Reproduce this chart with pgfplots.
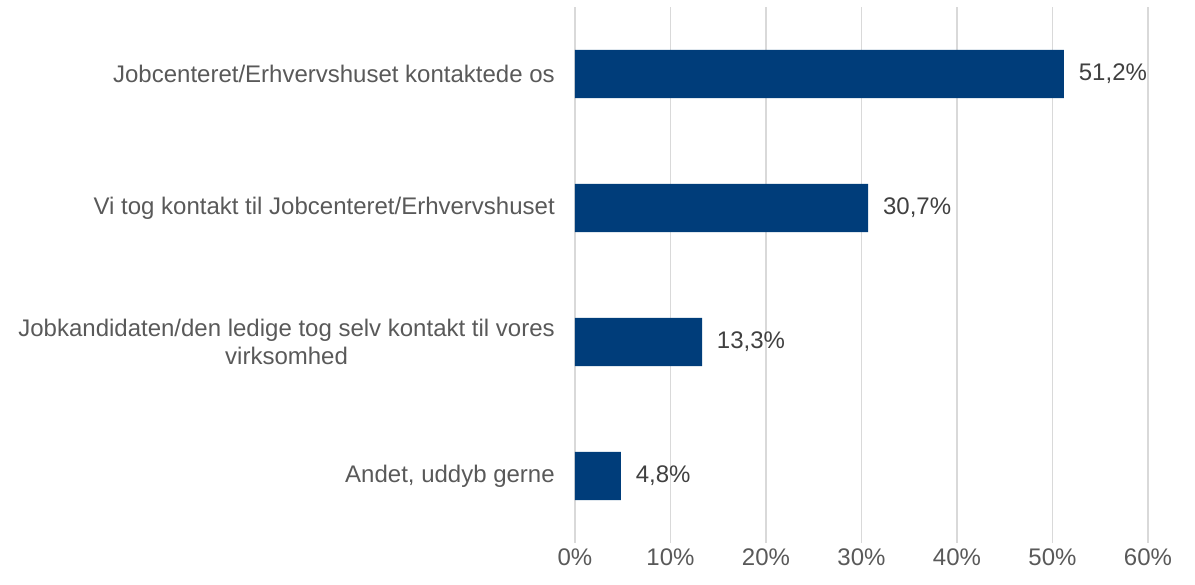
\documentclass[border=0pt]{standalone}
\usepackage{fontspec}
\setmainfont{Liberation Sans}
\usepackage{pgfplots}
\pgfplotsset{compat=1.18}
\definecolor{barblue}{RGB}{0,61,122}
\definecolor{labgray}{RGB}{89,89,89}
\definecolor{valgray}{RGB}{64,64,64}
\definecolor{gridgray}{RGB}{217,217,217}
\begin{document}
\begin{tikzpicture}[x=0.75pt,y=0.75pt]
\begin{axis}[
  at={(0,0)}, anchor=south west,
  scale only axis,
  width=429.75pt, height=402pt,
  xbar,
  xmin=0, xmax=60,
  ymin=-0.5, ymax=3.5,
  y dir=reverse,
  bar width=0.36,
  axis line style={draw=none},
  major tick length=0pt,
  xmajorgrids=true,
  grid style={gridgray, line width=1.1pt},
  xtick={0,10,20,30,40,50,60},
  xticklabel={\pgfmathprintnumber{\tick}\%},
  /pgf/number format/assume math mode=true,
  ytick={0,1,2,3},
  yticklabels={Jobcenteret/Erhvervshuset kontaktede os,
    Vi tog kontakt til Jobcenteret/Erhvervshuset,
    {Jobkandidaten/den ledige tog selv kontakt til vores\\virksomhed},
    {Andet, uddyb gerne}},
  tick label style={font=\fontsize{18}{20.5}\selectfont, text=labgray, inner sep=0pt},
  yticklabel style={align=center, xshift=-15pt},
  xticklabel style={yshift=-4pt},
  nodes near coords={\pgfmathprintnumber[fixed, fixed zerofill, precision=1, use comma]{\pgfplotspointmeta}\%},
  nodes near coords style={font=\fontsize{18}{20.5}\selectfont, text=valgray, anchor=west, inner sep=0pt, xshift=11pt},
]
\addplot[fill=barblue, draw=none] coordinates {(51.2,0) (30.7,1) (13.3,2) (4.8,3)};
\end{axis}
\pgfresetboundingbox
\path (-575,-42) rectangle (620,543);
\end{tikzpicture}
\end{document}
